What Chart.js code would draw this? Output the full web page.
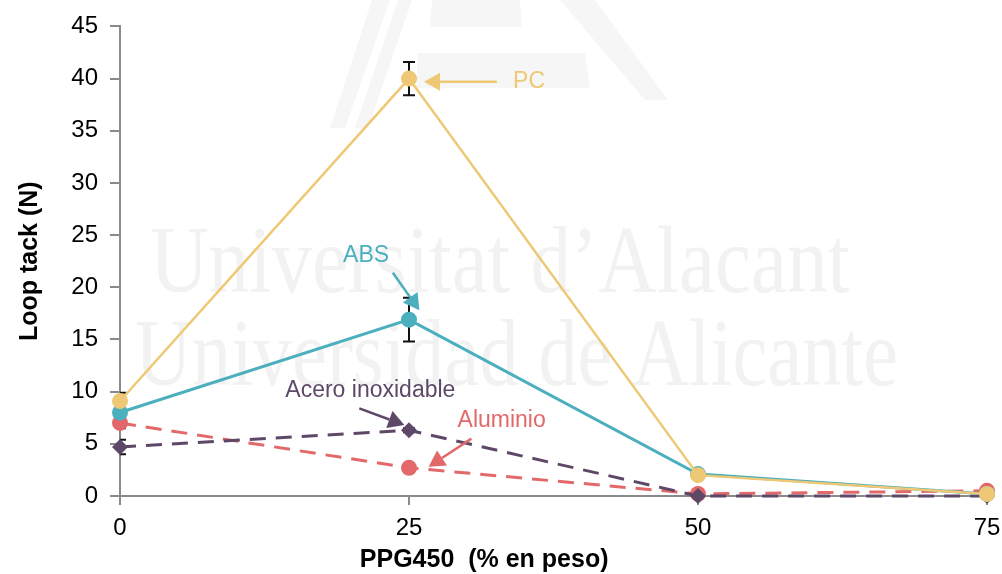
<!DOCTYPE html>
<html>
<head>
<meta charset="utf-8">
<script src="https://cdn.jsdelivr.net/npm/chart.js@4.4.1/dist/chart.umd.min.js"></script>
<style>
  html, body { margin: 0; padding: 0; background: #fff; }
  #wrap { width: 1002px; height: 574px; }
</style>
</head>
<body>
<div id="wrap"><canvas id="tackChart" width="1002" height="574"></canvas></div>
<script>
// PPG450 content (% en peso)
const ppg = [0, 25, 50, 75];
const xTicks = [0, 25, 50, 75];

// loop tack (N) per substrate
const pcVals = [9.1, 40.0, 2.0, 0.2];
const absVals = [8.0, 16.9, 2.1, 0.2];
const aluVals = [7.0, 2.7, 0.2, 0.5];
const aceroVals = [4.7, 6.3, 0.0, 0.0];

// standard deviations
const pcErr = [0.8, 1.6, 0.2, 0.1];
const absErr = [0.3, 2.1, 0.2, 0.1];
const aluErr = [0.5, 0.2, 0.1, 0.1];
const aceroErr = [0.7, 0.2, 0.1, 0.1];

const names = ['PC', 'ABS', 'Acero inoxidable', 'Aluminio'];
const colors = ['#EEC874', '#4BAFBE', '#5E4868', '#E3686A'];

// callout labels and arrows, in data units: [textX, textY, fromX, fromY, toX, toY]
const callouts = [
    [34.0, 39.7, 32.6, 39.7, 26.3, 39.7],
    [19.3, 23.0, 23.6, 21.4, 25.9, 17.8],
    [14.3, 10.1, 20.7, 8.4, 24.6, 6.8],
    [29.2, 7.2, 30.4, 5.5, 26.7, 2.8]
];

const FONT = '"Liberation Sans", Arial, sans-serif';

function pts(vals) {
    return vals.map((v, i) => ({ x: ppg[i], y: v }));
}

const series = [
    { vals: pcVals, err: pcErr, dash: [], style: 'circle', width: 2.5 },
    { vals: absVals, err: absErr, dash: [], style: 'circle', width: 3 },
    { vals: aceroVals, err: aceroErr, dash: [16, 10], style: 'rectRot', width: 3 },
    { vals: aluVals, err: aluErr, dash: [16, 10], style: 'circle', width: 3 }
];

// faint university watermark behind the plot
const watermark = {
    id: 'watermark',
    beforeDraw(chart) {
        const ctx = chart.ctx;
        ctx.save();
        ctx.fillStyle = '#f6f6f6';
        const shapes = [
            [[372, 0], [390, 0], [345, 128], [330, 128]],
            [[398, 0], [412, 0], [368, 128], [355, 128]],
            [[432, 0], [520, 0], [522, 27], [430, 27]],
            [[560, 0], [595, 0], [668, 100], [645, 100]],
            [[418, 53], [585, 53], [590, 88], [416, 88]]
        ];
        shapes.forEach(s => {
            ctx.beginPath();
            ctx.moveTo(s[0][0], s[0][1]);
            s.slice(1).forEach(p => ctx.lineTo(p[0], p[1]));
            ctx.closePath();
            ctx.fill();
        });
        ctx.fillStyle = '#f2f2f2';
        ctx.font = '96px "Liberation Serif", "DejaVu Serif", serif';
        ctx.textBaseline = 'alphabetic';
        const lines = [["Universitat d\u2019Alacant", 150, 292, 700], ['Universidad de Alicante', 135, 385, 763]];
        lines.forEach(([t, x, y, w]) => {
            const m = ctx.measureText(t).width;
            ctx.save();
            ctx.translate(x, y);
            ctx.scale(w / m, 1);
            ctx.fillText(t, 0, 0);
            ctx.restore();
        });
        ctx.restore();
    }
};

// error bars sit under the markers
const errorBars = {
    id: 'errorBars',
    beforeDatasetsDraw(chart) {
        const ctx = chart.ctx;
        const xs = chart.scales.x;
        const ys = chart.scales.y;
        const area = chart.chartArea;
        ctx.save();
        ctx.beginPath();
        ctx.rect(area.left, area.top - 10, area.right - area.left + 10, area.bottom - area.top + 10);
        ctx.clip();
        ctx.strokeStyle = '#111';
        ctx.lineWidth = 2;
        series.forEach(s => {
            s.vals.forEach((v, i) => {
                const px = xs.getPixelForValue(ppg[i]);
                const top = ys.getPixelForValue(v + s.err[i]);
                const bot = ys.getPixelForValue(Math.max(0, v - s.err[i]));
                ctx.beginPath();
                ctx.moveTo(px, top); ctx.lineTo(px, bot);
                ctx.moveTo(px - 6, top); ctx.lineTo(px + 6, top);
                ctx.moveTo(px - 6, bot); ctx.lineTo(px + 6, bot);
                ctx.stroke();
            });
        });
        ctx.restore();
    }
};

// callouts and x axis title
const extras = {
    id: 'extras',
    afterDatasetsDraw(chart) {
        const ctx = chart.ctx;
        const xs = chart.scales.x;
        const ys = chart.scales.y;
        const area = chart.chartArea;

        ctx.save();
        ctx.font = '23px ' + FONT;
        ctx.textBaseline = 'middle';
        callouts.forEach((c, i) => {
            const col = colors[i];
            ctx.fillStyle = col;
            ctx.strokeStyle = col;
            ctx.fillText(names[i], xs.getPixelForValue(c[0]), ys.getPixelForValue(c[1]));
            const x1 = xs.getPixelForValue(c[2]), y1 = ys.getPixelForValue(c[3]);
            const x2 = xs.getPixelForValue(c[4]), y2 = ys.getPixelForValue(c[5]);
            const ang = Math.atan2(y2 - y1, x2 - x1);
            const head = 16, half = 9;
            const bx = x2 - head * Math.cos(ang), by = y2 - head * Math.sin(ang);
            ctx.lineWidth = 2.5;
            ctx.beginPath();
            ctx.moveTo(x1, y1); ctx.lineTo(bx, by);
            ctx.stroke();
            ctx.beginPath();
            ctx.moveTo(x2, y2);
            ctx.lineTo(bx + half * Math.sin(ang), by - half * Math.cos(ang));
            ctx.lineTo(bx - half * Math.sin(ang), by + half * Math.cos(ang));
            ctx.closePath();
            ctx.fill();
        });

        ctx.fillStyle = '#000';
        ctx.font = 'bold 25px ' + FONT;
        ctx.textAlign = 'center';
        ctx.textBaseline = 'middle';
        ctx.fillText('PPG450  (% en peso)', area.left + (area.right - area.left) * 0.42, 560);
        ctx.restore();
    }
};

const ctx = document.getElementById('tackChart').getContext('2d');
new Chart(ctx, {
    type: 'line',
    data: {
        datasets: series.map((s, i) => ({
            label: names[i],
            data: pts(s.vals),
            borderColor: colors[i],
            backgroundColor: colors[i],
            borderWidth: s.width,
            borderDash: s.dash,
            pointStyle: s.style,
            pointRadius: 8,
            pointBorderWidth: 0,
            tension: 0,
            clip: 12
        }))
    },
    options: {
        responsive: false,
        animation: false,
        layout: { padding: { top: 25, right: 15, left: 0, bottom: 0 } },
        plugins: {
            legend: { display: false },
            tooltip: { enabled: false }
        },
        scales: {
            x: {
                type: 'linear',
                min: 0,
                max: 75,
                afterBuildTicks: (scale) => { scale.ticks = xTicks.map(v => ({ value: v })); },
                afterFit: (scale) => {
                    scale.height = 78;
                    scale.paddingLeft = 0;
                    scale.paddingRight = 0;
                },
                border: { color: '#8a8a8a', width: 2 },
                grid: { display: true, drawOnChartArea: false, drawTicks: true, tickLength: 9, color: '#8a8a8a', lineWidth: 2 },
                ticks: {
                    color: '#000',
                    padding: 9,
                    font: { family: FONT, size: 24 }
                }
            },
            y: {
                min: 0,
                max: 45,
                afterFit: (scale) => { scale.width = 120; },
                border: { color: '#8a8a8a', width: 2 },
                grid: { display: true, drawOnChartArea: false, drawTicks: true, tickLength: 10, color: '#8a8a8a', lineWidth: 2 },
                ticks: {
                    stepSize: 5,
                    color: '#000',
                    padding: 12,
                    font: { family: FONT, size: 24 }
                },
                title: {
                    display: true,
                    text: 'Loop tack (N)',
                    color: '#000',
                    padding: { top: 15, bottom: 0 },
                    font: { family: FONT, size: 25, weight: 'bold' }
                }
            }
        }
    },
    plugins: [watermark, errorBars, extras]
});
</script>
</body>
</html>
